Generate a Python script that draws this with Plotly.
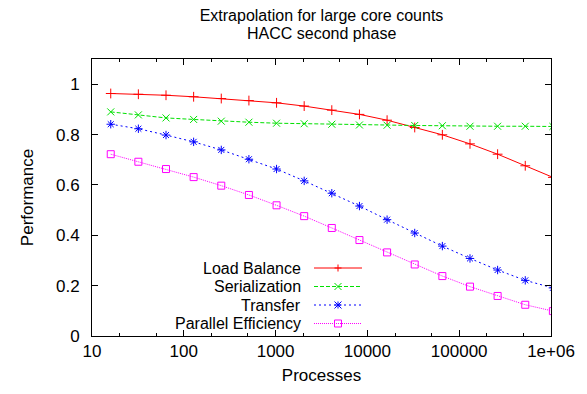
import plotly.graph_objects as go

processes = [16, 32, 64, 128, 256, 512, 1024, 2048, 4096, 8192, 16384, 32768,
             65536, 131072, 262144, 524288, 1048576]
load_balance = [0.963, 0.960, 0.956, 0.950, 0.943, 0.935, 0.926, 0.913, 0.897, 0.880,
                0.857, 0.828, 0.799, 0.763, 0.722, 0.676, 0.630]
serialization = [0.890, 0.878, 0.866, 0.860, 0.853, 0.849, 0.845, 0.843, 0.841, 0.838,
                 0.837, 0.836, 0.835, 0.833, 0.833, 0.833, 0.832]
transfer = [0.841, 0.823, 0.798, 0.771, 0.739, 0.702, 0.663, 0.616, 0.567, 0.516,
            0.462, 0.409, 0.357, 0.308, 0.262, 0.221, 0.191]
parallel_eff = [0.722, 0.692, 0.663, 0.631, 0.597, 0.560, 0.519, 0.476, 0.429, 0.381,
                0.332, 0.284, 0.238, 0.196, 0.159, 0.124, 0.099]

x_tickvals = [10, 100, 1000, 10000, 100000, 1000000]
x_ticktext = ["10", "100", "1000", "10000", "100000", "1e+06"]
y_tickvals = [0, 0.2, 0.4, 0.6, 0.8, 1]
y_ticktext = ["0", "0.2", "0.4", "0.6", "0.8", "1"]

title_line1 = "Extrapolation for large core counts"
title_line2 = "HACC second phase"

series = [
    ("Load Balance", load_balance, "#ff0000", "solid", "cross-thin-open"),
    ("Serialization", serialization, "#00e000", "4px,2px", "x-thin-open"),
    ("Transfer", transfer, "#0000ff", "2px,3px", "asterisk-open"),
    ("Parallel Efficiency", parallel_eff, "#ff00ff", "1px,1px", "square-open"),
]

FONT = "Liberation Sans, Arial, Helvetica, sans-serif"
FS = 17
FS_SMALL = 16
W, H = 587, 394
# target plot area in page pixels (body margin removed below)
L, R, T, B = 92, 551, 59, 336

fig = go.Figure()
for name, vals, color, dash, sym in series:
    fig.add_trace(go.Scatter(
        x=processes, y=vals, mode="lines+markers", name=name,
        line=dict(color=color, width=1, dash=dash),
        marker=dict(symbol=sym, size=7, color=color, line=dict(color=color, width=1)),
        showlegend=False, cliponaxis=True,
    ))

def px2paper_x(px):
    return (px - L) / (R - L)

def py2paper_y(py):
    return (B - py) / (B - T)

annotations = [dict(xref="paper", yref="paper", x=0.5, y=py2paper_y(33),
                    text=title_line2, showarrow=False, xanchor="center", yanchor="middle",
                    font=dict(family=FONT, size=FS_SMALL, color="black"))]
shapes = []
legend_y = [268, 286.5, 305, 323.5]
for (name, vals, color, dash, sym), ly in zip(series, legend_y):
    yy = py2paper_y(ly)
    annotations.append(dict(xref="paper", yref="paper", x=px2paper_x(303), y=yy,
                            text=name, showarrow=False, xanchor="right", yanchor="middle",
                            font=dict(family=FONT, size=FS_SMALL, color="black")))
    shapes.append(dict(type="line", xref="paper", yref="paper",
                       x0=px2paper_x(314), x1=px2paper_x(362), y0=yy, y1=yy,
                       line=dict(color=color, width=1, dash=dash)))
    cx = px2paper_x(338)
    s = 3.5
    segs = []
    if sym == "cross-thin-open":
        segs = [(-s, 0, s, 0), (0, -s, 0, s)]
    elif sym == "x-thin-open":
        segs = [(-s, -s, s, s), (-s, s, s, -s)]
    elif sym == "asterisk-open":
        segs = [(-s, 0, s, 0), (0, -s, 0, s), (-s, -s, s, s), (-s, s, s, -s)]
    for x0, y0, x1, y1 in segs:
        shapes.append(dict(type="line", xref="paper", yref="paper",
                           xsizemode="pixel", ysizemode="pixel", xanchor=cx, yanchor=yy,
                           x0=x0, x1=x1, y0=y0, y1=y1, line=dict(color=color, width=1)))
    if sym == "square-open":
        shapes.append(dict(type="rect", xref="paper", yref="paper",
                           xsizemode="pixel", ysizemode="pixel", xanchor=cx, yanchor=yy,
                           x0=-s, x1=s, y0=-s, y1=s, line=dict(color=color, width=1),
                           fillcolor="rgba(0,0,0,0)"))

fig.update_layout(
    width=W, height=H,
    margin=dict(l=L, r=W - R, t=T, b=H - B, pad=0),
    paper_bgcolor="white", plot_bgcolor="white",
    font=dict(family=FONT, size=FS, color="black"),
    hovermode=False,
    title=dict(text=title_line1,
               x=((L + R) / 2) / W, xanchor="center",
               y=1 - 15.5 / H, yanchor="middle",
               font=dict(family=FONT, size=FS_SMALL, color="black")),
    xaxis=dict(type="log", range=[1, 6], tickvals=x_tickvals, ticktext=x_ticktext,
               ticks="inside", ticklen=6, tickcolor="black", showline=True,
               linecolor="black", linewidth=1, mirror="ticks", showgrid=False,
               zeroline=False,
               minor=dict(ticks="inside", ticklen=3, tickcolor="black", showgrid=False),
               title=dict(text="Processes", standoff=8,
                          font=dict(family=FONT, size=FS, color="black")),
               tickfont=dict(family=FONT, size=FS)),
    yaxis=dict(range=[0, 1.1], tickvals=y_tickvals, ticktext=y_ticktext,
               ticks="inside", ticklen=6, tickcolor="black", showline=True,
               linecolor="black", linewidth=1, mirror="ticks", showgrid=False,
               zeroline=False,
               title=dict(text="Performance", standoff=18,
                          font=dict(family=FONT, size=FS, color="black")),
               ticklabelstandoff=8,
               tickfont=dict(family=FONT, size=FS)),
    annotations=annotations, shapes=shapes,
)

fig.write_html("out.html", config={"displayModeBar": False},
               post_script="document.body.style.margin='0px';")
